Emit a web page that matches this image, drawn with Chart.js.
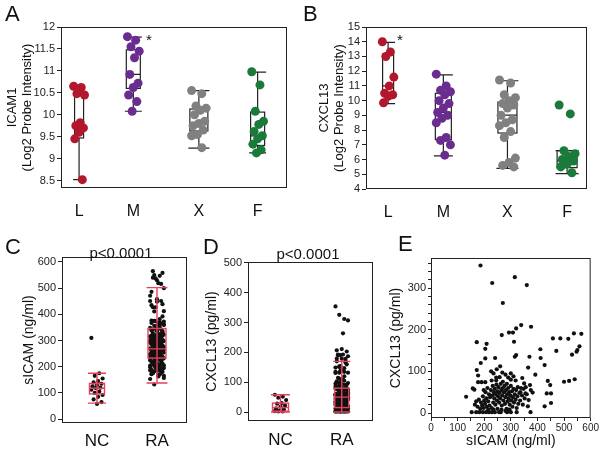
<!DOCTYPE html>
<html>
<head>
<meta charset="utf-8">
<script src="https://cdn.jsdelivr.net/npm/chart.js@4.4.1/dist/chart.umd.min.js"></script>
<style>
  body { margin: 0; background: #fff; font-family: "Liberation Sans", Arial, sans-serif; }
  #fig { position: relative; width: 600px; height: 450px; overflow: hidden; }
  #fig canvas { position: absolute; }
  .tag { position: absolute; font-size: 22px; color: #111; line-height: 1; }
  .pv { position: absolute; font-size: 15px; color: #111; line-height: 1; transform: translate(-50%, -50%); }
  .star { position: absolute; font-size: 15px; color: #111; line-height: 1; }
</style>
</head>
<body>
<div id="fig">
  <canvas id="cA" width="300" height="230" style="left:0;top:0"></canvas>
  <canvas id="cB" width="300" height="230" style="left:300px;top:0"></canvas>
  <canvas id="cC" width="200" height="220" style="left:0;top:230px"></canvas>
  <canvas id="cD" width="180" height="220" style="left:200px;top:230px"></canvas>
  <canvas id="cE" width="220" height="220" style="left:380px;top:230px"></canvas>
  <div class="tag" style="left:5px;top:3px">A</div>
  <div class="tag" style="left:303px;top:3px">B</div>
  <div class="tag" style="left:5px;top:236px">C</div>
  <div class="tag" style="left:203px;top:236px">D</div>
  <div class="tag" style="left:398px;top:233px">E</div>
  <div class="star" style="left:146px;top:32px">*</div>
  <div class="star" style="left:397px;top:32px">*</div>
  <div class="pv" style="left:121px;top:252px">p&lt;0.0001</div>
  <div class="pv" style="left:308px;top:253px">p&lt;0.0001</div>
</div>
<script>
const FONT = '"Liberation Sans", Arial, sans-serif';

// ---- A: ICAM1 probe intensity by group ----
const aCategories = ['L', 'M', 'X', 'F'];
const aL = [10.65, 10.62, 10.48, 10.45, 9.82, 9.75, 9.7, 9.6, 9.45, 8.52];
const aM = [11.78, 11.7, 11.55, 11.45, 11.3, 10.92, 10.72, 10.62, 10.45, 10.3, 10.08];
const aX = [10.55, 10.48, 10.2, 10.15, 10.1, 10.0, 9.85, 9.8, 9.75, 9.65, 9.55, 9.52, 9.25];
const aF = [10.98, 10.68, 10.08, 9.85, 9.78, 9.62, 9.52, 9.45, 9.33, 9.2, 9.13];
// whisker low, q1, median, q3, whisker high
const aBoxes = [[8.52, 9.47, 9.77, 10.47, 10.63], [10.08, 10.6, 10.92, 11.48, 11.77],
                [9.24, 9.63, 9.8, 10.13, 10.55], [9.13, 9.3, 9.52, 10.06, 10.97]];
const aTicks = [8.5, 9, 9.5, 10, 10.5, 11, 11.5, 12];

// ---- B: CXCL13 probe intensity by group ----
const bCategories = ['L', 'M', 'X', 'F'];
const bL = [14.0, 13.3, 13.0, 11.6, 11.0, 10.5, 10.4, 10.3, 9.85];
const bM = [11.8, 11.0, 10.7, 10.6, 10.4, 10.0, 9.8, 9.5, 9.2, 9.0, 8.8, 8.5, 7.5, 7.3, 7.0, 6.3];
const bX = [11.4, 11.2, 10.4, 10.2, 10.0, 9.8, 9.7, 9.5, 9.0, 8.7, 8.5, 8.3, 7.9, 7.5, 6.1, 5.8, 5.6, 5.5];
const bF = [9.7, 9.1, 6.6, 6.4, 6.2, 6.0, 5.9, 5.7, 5.5, 5.1];
const bBoxes = [[9.8, 10.3, 11.0, 13.15, 13.95], [6.25, 7.35, 9.2, 10.5, 11.75],
                [5.4, 7.8, 9.02, 9.9, 11.35], [5.05, 5.45, 5.9, 6.6, 6.6]];
const bTicks = [4, 5, 6, 7, 8, 9, 10, 11, 12, 13, 14, 15];

// ---- C/D/E: serum sICAM (ng/ml) and CXCL13 (pg/ml) ----
const serumCategories = ['NC', 'RA'];
const ncSICAM = [310, 175, 165, 155, 145, 140, 135, 130, 125, 120, 118, 112, 105, 100, 92, 85, 75, 65, 58];
const ncCXCL13 = [58, 52, 48, 40, 30, 28, 22, 18, 12, 8, 5, 3, 2, 2];
// RA patients: [sICAM, CXCL13]
const raPairs = [
  [186, 354], [230, 312], [315, 326], [360, 307], [270, 264], [565, 190], [558, 160], [530, 140],
  [172, 170], [209, 166], [204, 154], [204, 131], [187, 120], [241, 132], [266, 187], [293, 193],
  [308, 193], [320, 203], [339, 211], [376, 207], [312, 171], [320, 139], [315, 135], [370, 135],
  [411, 153], [412, 132], [365, 109], [427, 115], [392, 92], [458, 179], [486, 179], [516, 178],
  [537, 191], [471, 149], [547, 147], [550, 151], [500, 75], [519, 77], [540, 81], [439, 77],
  [448, 67], [435, 47], [451, 47], [427, 16], [451, 24], [382, 49], [375, 55], [372, 67],
  [350, 71], [343, 84], [336, 50], [355, 47], [367, 31], [364, 16], [374, 2], [153, 2],
  [170, 2], [182, 2], [195, 2], [207, 2], [218, 2], [229, 2], [240, 2], [256, 2],
  [262, 2], [286, 2], [300, 2], [322, 2], [132, 39], [157, 59], [163, 56], [177, 74],
  [190, 74], [204, 74], [172, 103], [177, 90], [226, 100], [235, 95], [247, 105], [260, 112],
  [268, 97], [280, 92], [290, 85], [300, 80], [310, 88], [318, 78], [326, 62], [258, 86],
  [245, 78], [270, 75], [285, 70], [165, 20], [170, 28], [175, 15], [180, 32], [185, 10],
  [188, 25], [192, 18], [195, 40], [198, 12], [200, 30], [203, 22], [205, 50], [208, 35],
  [210, 15], [212, 60], [215, 28], [218, 45], [220, 18], [222, 38], [225, 55], [228, 12],
  [230, 42], [232, 65], [234, 25], [236, 50], [238, 35], [240, 58], [242, 20], [244, 45],
  [246, 68], [248, 30], [250, 52], [252, 40], [254, 62], [256, 25], [258, 48], [260, 35],
  [262, 70], [264, 55], [266, 18], [268, 42], [270, 60], [272, 30], [274, 50], [276, 65],
  [278, 22], [280, 38], [282, 55], [284, 10], [286, 45], [288, 28], [290, 60], [292, 35],
  [294, 50], [296, 20], [298, 42], [300, 65], [302, 30], [304, 52], [306, 15], [308, 38],
  [310, 58], [312, 25], [315, 45], [318, 32], [320, 55], [322, 12], [325, 40], [328, 22],
  [332, 48], [335, 30], [338, 60], [342, 42], [345, 20], [348, 58], [352, 35], [356, 62],
  [360, 45], [198, 55], [215, 8], [235, 8], [250, 10], [265, 8], [280, 5], [295, 8],
  [245, 85], [228, 78], [300, 95]
];
const cBoxes = [[61, 96, 118, 136, 175], [138, 233, 268, 346, 502]];
const dBoxes = [[0, 3, 15, 30, 58], [0, 15, 50, 80, 170]];
const cTicks = [0, 100, 200, 300, 400, 500, 600];
const dTicks = [0, 100, 200, 300, 400, 500];

const groupColors = ['#b3172c', '#6a2d8f', '#808080', '#1a7a3a'];

// draws the frame around the plot area
const frame = {
  id: 'frame',
  afterDraw(c) {
    const a = c.chartArea, ctx = c.ctx;
    ctx.save();
    ctx.strokeStyle = '#222';
    ctx.lineWidth = 1;
    ctx.strokeRect(a.left + 0.5, a.top + 0.5, a.width - 1, a.height - 1);
    ctx.restore();
  }
};

// box & whisker drawn through the chart's scales
function boxPlugin(boxes, pos, widths, color, lw, through, after) {
  const draw = c => {
    const xs = c.scales.x, ys = c.scales.y, ctx = c.ctx;
    ctx.save();
    ctx.strokeStyle = color;
    ctx.lineWidth = lw;
    boxes.forEach((b, i) => {
      const [lo, q1, med, q3, hi] = b.map(v => ys.getPixelForValue(v));
      const cx = xs.getPixelForValue(pos[i]), hw = widths[i] / 2, cw = hw + 1.5;
      ctx.beginPath();
      if (through) {
        ctx.moveTo(cx, lo); ctx.lineTo(cx, hi);
      } else {
        ctx.moveTo(cx, lo); ctx.lineTo(cx, q1);
        ctx.moveTo(cx, q3); ctx.lineTo(cx, hi);
      }
      ctx.moveTo(cx - cw, lo); ctx.lineTo(cx + cw, lo);
      ctx.moveTo(cx - cw, hi); ctx.lineTo(cx + cw, hi);
      ctx.moveTo(cx - hw, med); ctx.lineTo(cx + hw, med);
      ctx.stroke();
      ctx.strokeRect(cx - hw, q3, hw * 2, q1 - q3);
    });
    ctx.restore();
  };
  return after ? { id: 'boxes', afterDatasetsDraw: draw } : { id: 'boxes', beforeDatasetsDraw: draw };
}

// fixed horizontal spread for strip points
const jit = (i, spread) => ((((i * 7) % 11) - 5) / 5) * spread;

function strip(values, pos, spread, color, r) {
  return {
    data: values.map((v, i) => ({ x: pos + jit(i, spread), y: v })),
    backgroundColor: color, borderWidth: 0, pointRadius: r, pointHoverRadius: r
  };
}

function boxChart(id, o) {
  new Chart(document.getElementById(id), {
    type: 'scatter',
    data: { datasets: o.groups.map((g, i) => strip(g, o.pos[i], o.spread[i], o.colors[i], o.r)) },
    options: {
      responsive: false, animation: false, events: [],
      layout: { padding: o.pad },
      plugins: { legend: { display: false }, tooltip: { enabled: false } },
      scales: {
        x: {
          type: 'linear', min: 0, max: 100,
          afterFit: s => { s.height = o.xh; },
          afterBuildTicks: s => { s.ticks = o.pos.map(v => ({ value: v })); },
          ticks: { autoSkip: false, maxRotation: 0, padding: o.xpad, color: '#111',
                   font: { family: FONT, size: o.xfs }, callback: (v, i) => o.cats[i] },
          grid: { display: false }, border: { display: false }
        },
        y: {
          type: 'linear', min: o.ymin, max: o.ymax,
          afterFit: s => { s.width = o.yw; },
          afterBuildTicks: s => { s.ticks = o.yticks.map(v => ({ value: v })); },
          ticks: { autoSkip: false, padding: 2, color: '#222', font: { family: FONT, size: 11 },
                   callback: v => String(v) },
          grid: { drawOnChartArea: false, tickLength: 4, color: '#222' },
          border: { display: false },
          title: { display: true, text: o.ytitle, color: '#111',
                   font: { family: FONT, size: o.tfs, lineHeight: 1.15 }, padding: { top: o.tpad, bottom: 0 } }
        }
      }
    },
    plugins: [boxPlugin(o.boxes, o.pos, o.widths, o.boxColor, o.lw, o.through, o.after), frame]
  });
}

boxChart('cA', {
  groups: [aL, aM, aX, aF], cats: aCategories, boxes: aBoxes, yticks: aTicks,
  pos: [8, 32, 61, 87], spread: [2.4, 2.6, 3.2, 2.6], widths: [9, 14, 18, 14],
  colors: groupColors, r: 4.5, boxColor: '#222', lw: 1.2, through: false, after: false,
  ymin: 8.33, ymax: 12, ytitle: ['ICAM1', '(Log2 Probe Intensity)'], tfs: 13, tpad: 5,
  pad: { left: 0, top: 27, right: 13, bottom: 0 }, yw: 61, xh: 42, xpad: 6, xfs: 16
});

boxChart('cB', {
  groups: [bL, bM, bX, bF], cats: bCategories, boxes: bBoxes, yticks: bTicks,
  pos: [10, 35, 64, 91], spread: [2.6, 3.2, 3.6, 3.6], widths: [11, 16, 19, 20],
  colors: groupColors, r: 4.5, boxColor: '#222', lw: 1.2, through: false, after: false,
  ymin: 4, ymax: 15, ytitle: ['CXCL13', '(Log2 Probe Intensity)'], tfs: 13, tpad: 5,
  pad: { left: 12, top: 27, right: 13, bottom: 0 }, yw: 54, xh: 41, xpad: 6, xfs: 16
});

boxChart('cC', {
  groups: [ncSICAM, raPairs.map(p => p[0])], cats: serumCategories, boxes: cBoxes, yticks: cTicks,
  pos: [28, 76], spread: [4.5, 5.5], widths: [15, 18],
  colors: ['#111', '#111'], r: 2.1, boxColor: '#e8405c', lw: 1.4, through: true, after: true,
  ymin: -15, ymax: 619, ytitle: 'sICAM (ng/ml)', tfs: 14, tpad: 5,
  pad: { left: 16, top: 27, right: 13, bottom: 0 }, yw: 46, xh: 27, xpad: 0, xfs: 17
});

boxChart('cD', {
  groups: [ncCXCL13, raPairs.map(p => p[1])], cats: serumCategories, boxes: dBoxes, yticks: dTicks,
  pos: [26, 75], spread: [4.5, 5], widths: [16, 14],
  colors: ['#111', '#111'], r: 2.1, boxColor: '#e8405c', lw: 1.4, through: true, after: true,
  ymin: -30, ymax: 503, ytitle: 'CXCL13 (pg/ml)', tfs: 14, tpad: 4,
  pad: { left: 0, top: 32, right: 7, bottom: 0 }, yw: 48, xh: 29, xpad: 1, xfs: 17
});

// E: sICAM vs CXCL13 scatter
const eXTicks = [0, 50, 100, 150, 200, 250, 300, 350, 400, 450, 500, 550, 600];
const eYTicks = [0, 20, 40, 60, 80, 100, 120, 140, 160, 180, 200, 220, 240, 260, 280, 300, 320, 340, 360];
new Chart(document.getElementById('cE'), {
  type: 'scatter',
  data: { datasets: [{
    data: raPairs.map(p => ({ x: p[0], y: p[1] })),
    backgroundColor: '#111', borderWidth: 0, pointRadius: 2.1, pointHoverRadius: 2.1
  }] },
  options: {
    responsive: false, animation: false, events: [],
    layout: { padding: { left: 3, top: 28, right: 7, bottom: 0 } },
    plugins: { legend: { display: false }, tooltip: { enabled: false } },
    scales: {
      x: {
        type: 'linear', min: 0, max: 600,
        afterFit: s => { s.height = 32; },
        afterBuildTicks: s => { s.ticks = eXTicks.map(v => ({ value: v })); },
        ticks: { autoSkip: false, maxRotation: 0, padding: 1, color: '#222', font: { family: FONT, size: 10 },
                 callback: v => (v % 100 === 0 ? String(v) : '') },
        grid: { drawOnChartArea: false, tickLength: 3, color: '#222' }, border: { display: false },
        title: { display: true, text: 'sICAM (ng/ml)', color: '#111', font: { family: FONT, size: 14 },
                 padding: { top: 0, bottom: 0 } }
      },
      y: {
        type: 'linear', min: -12, max: 372,
        afterFit: s => { s.width = 48; },
        afterBuildTicks: s => { s.ticks = eYTicks.map(v => ({ value: v })); },
        ticks: { autoSkip: false, padding: 2, color: '#222', font: { family: FONT, size: 11 },
                 callback: v => (v % 100 === 0 ? String(v) : '') },
        grid: { drawOnChartArea: false, tickLength: 3, color: '#222' }, border: { display: false },
        title: { display: true, text: 'CXCL13 (pg/ml)', color: '#111', font: { family: FONT, size: 14 },
                 padding: { top: 5, bottom: 0 } }
      }
    }
  },
  plugins: [frame]
});
</script>
</body>
</html>
